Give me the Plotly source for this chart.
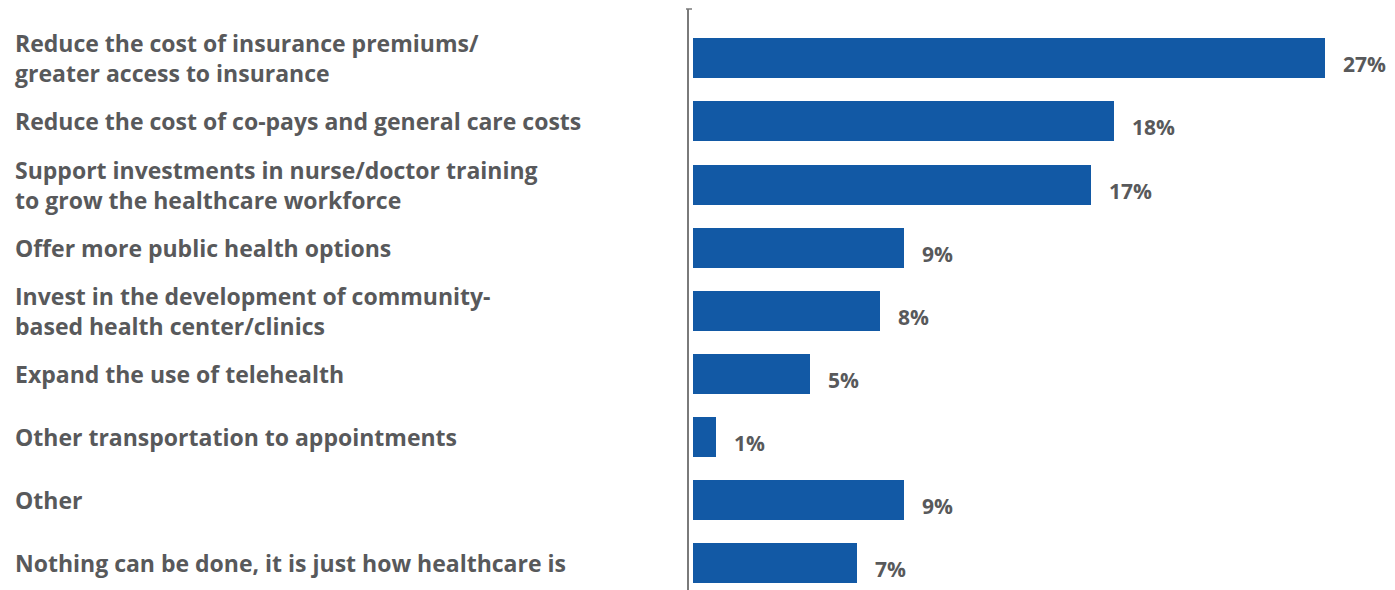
import plotly.graph_objects as go

# Survey responses: what should be done about healthcare costs/access
categories = [
    "Reduce the cost of insurance premiums/<br>greater access to insurance",
    "Reduce the cost of co-pays and general care costs",
    "Support investments in nurse/doctor training<br>to grow the healthcare workforce",
    "Offer more public health options",
    "Invest in the development of community-<br>based health center/clinics",
    "Expand the use of telehealth",
    "Other transportation to appointments",
    "Other",
    "Nothing can be done, it is just how healthcare is",
]
values = [27, 18, 17, 9, 8, 5, 1, 9, 7]
value_labels = [f"{v}%" for v in values]

W, H = 1395, 590
M_L, M_R, M_T, M_B = 689, 10, 9, 0
PLOT_W = W - M_L - M_R

BAR_COLOR = "#1259a5"
TEXT_COLOR = "#58595b"
FONT = "Open Sans"

keys = list(range(len(categories)))

fig = go.Figure(
    go.Bar(
        x=values,
        y=keys,
        orientation="h",
        marker=dict(color=BAR_COLOR, line=dict(width=0)),
        width=0.634,
        hoverinfo="skip",
    )
)

annotations = []
# Category names, left-aligned at the page edge
for k, label in zip(keys, categories):
    annotations.append(dict(
        x=-(M_L - 13) / PLOT_W, xref="paper", xanchor="left",
        y=k, yref="y", yanchor="middle",
        text=label, align="left", showarrow=False,
        font=dict(family=FONT, size=23, color=TEXT_COLOR, weight="bold"),
    ))
# Value labels just past each bar end
for k, v, lab in zip(keys, values, value_labels):
    annotations.append(dict(
        x=v, xref="x", xanchor="left", xshift=16,
        y=k, yref="y", yanchor="middle", yshift=-6,
        text=lab, showarrow=False,
        font=dict(family=FONT, size=21, color=TEXT_COLOR, weight="bold"),
    ))

fig.update_layout(
    width=W, height=H,
    margin=dict(l=M_L, r=M_R, t=M_T, b=M_B, pad=0),
    paper_bgcolor="white", plot_bgcolor="white",
    showlegend=False,
    bargap=0,
    annotations=annotations,
    xaxis=dict(range=[-0.17, -0.17 + PLOT_W / 23.4], visible=False, fixedrange=True),
    yaxis=dict(
        range=[8.426, -0.783], showticklabels=False, ticks="",
        showgrid=False, zeroline=False,
        showline=True, linecolor="#7a7a7a", linewidth=1.5,
        fixedrange=True,
    ),
    shapes=[dict(
        type="line", xref="paper", yref="paper",
        xsizemode="pixel", xanchor=0, x0=-3, x1=3, y0=1, y1=1,
        line=dict(color="#7a7a7a", width=1.5),
    )],
)

fig.write_html("out.html", config={"displayModeBar": False})
